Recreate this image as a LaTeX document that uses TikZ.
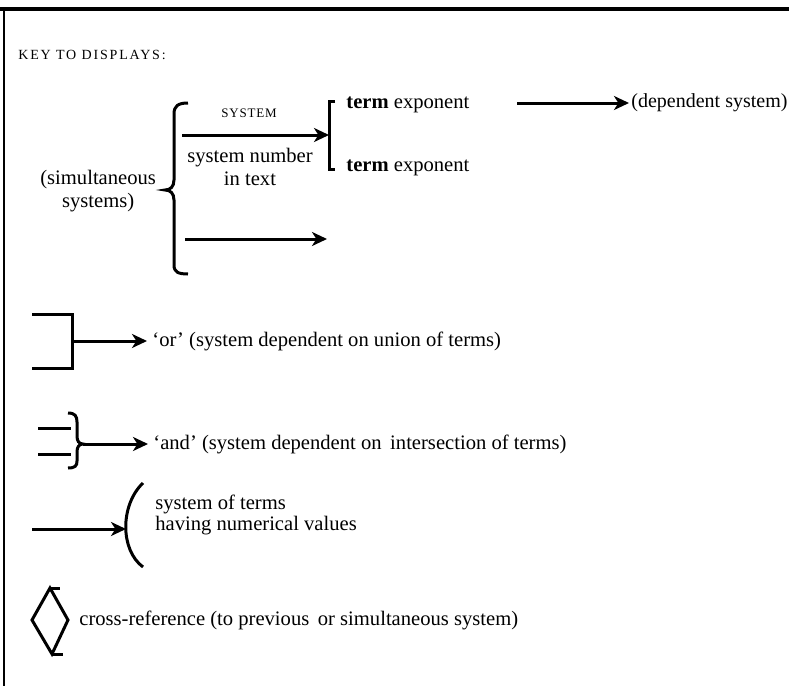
\documentclass[tikz,border=0pt]{standalone}
\usepackage{fontspec}
\setmainfont{Liberation Serif}
\usetikzlibrary{arrows.meta}
\begin{document}
\begin{tikzpicture}[x=.5pt, y=-.5pt, font=\fontsize{10.3}{11.5}\selectfont,
    line/.style={line width=1.5pt},
    arr/.style={line width=1.5pt, -{Stealth[length=7.5pt,width=7pt,inset=2.2pt]}},
    txt/.style={inner sep=0pt, anchor=base west},
    tgt/.style={inner sep=0pt, inner xsep=2.5pt, anchor=west},
    caps/.style={inner sep=0pt, font=\fontsize{7}{8}\selectfont\addfontfeatures{LetterSpace=8}}]
    \useasboundingbox (0,0) rectangle (794,686);
    \draw[line width=1.6pt] (0,9)--(789,9);
    \draw[line width=1.1pt] (4,9)--(4,686);
    \node[caps, anchor=base west, font=\fontsize{7}{8}\selectfont\addfontfeatures{LetterSpace=13}] (key) at (18,59) {KEY TO DISPLAYS:};
    % simultaneous systems
    \coordinate (bmid) at (165,190);
    \draw[line] (188,103) .. controls (178,103) and (174,106) .. (174,114)--(174,180)
        .. controls (174,187) and (170,190) .. (bmid)
        .. controls (170,190) and (174,193) .. (174,200)--(174,265)
        .. controls (174,272) and (178,274) .. (188,274);
    \node[align=center, anchor=east] (sim) at (163,191) {(simultaneous\\systems)};
    \coordinate (s1) at (182,135);
    \coordinate (btop) at (329,101);
    \coordinate (bbot) at (329,169);
    \coordinate (t1) at (329,135);
    \draw[line] ([xshift=3pt]btop)--(btop)--(bbot)--([xshift=3pt]bbot);
    \draw[arr] (s1)--(t1);
    \node[caps, font=\fontsize{6.5}{7}\selectfont\addfontfeatures{LetterSpace=6}] (sys) at (249,113) {SYSTEM};
    \node[align=center] (num) at (250,167) {system number\\in text};
    \foreach \n/\y in {1/108,2/171}
        \node[txt] (te\n) at (346,\y) {\textbf{term} exponent};
    \coordinate (d0) at (517,103);
    \node[tgt, inner xsep=1pt, font=\fontsize{10}{11.5}\selectfont] (dep) at (629,103) {(dependent system)};
    \draw[arr] (d0)--(dep.west);
    \coordinate (s2) at (185,239);
    \coordinate (t2) at (327,239);
    \draw[arr] (s2)--(t2);
    % or
    \coordinate (orj) at (72,341);
    \draw[line] (32,314)--(72,314)--(72,368)--(32,368);
    \node[tgt] (or) at (147,341) {`or' (system dependent on union of terms)};
    \draw[arr] (orj)--(or.west);
    % and
    \foreach \y in {428,454}
        \draw[line] (38,\y)--(71,\y);
    \coordinate (andj) at (83,444);
    \draw[line] (68,413) .. controls (75,413) and (77,416) .. (77,422)--(77,436)
        .. controls (77,441) and (79,444) .. (andj)
        .. controls (79,444) and (77,447) .. (77,452)--(77,461)
        .. controls (77,466) and (75,468) .. (68,468);
    \node[tgt] (and) at (148,444) {`and' (system dependent on \,intersection of terms)};
    \draw[arr] (andj)--(and.west);
    % numerical values
    \coordinate (n0) at (32,529);
    \coordinate (n1) at (126,529);
    \draw[line] (143,483) .. controls (120,505) and (120,550) .. (143,567);
    \draw[arr] (n0)--(n1);
    \node[txt] (numa) at (155,509) {system of terms};
    \node[txt] (numb) at (155,530) {having numerical values};
    % cross-reference
    \coordinate (xt) at (50,588);
    \coordinate (xl) at (32,620);
    \coordinate (xb) at (52,654);
    \coordinate (xr) at (68,620);
    \draw[line] (xl)--(xt)--(xr)--(xb)--cycle;
    \draw[line] (xt)--++(10,0);
    \draw[line] (xb)--++(11,0);
    \node[tgt] (xref) at (74,620) {cross-reference (to previous \,or simultaneous system)};
\end{tikzpicture}
\end{document}
